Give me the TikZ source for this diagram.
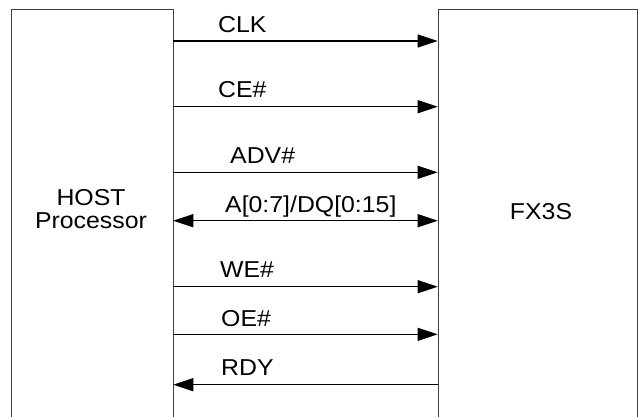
\documentclass[tikz,border=0pt]{standalone}
\usepackage{fontspec}
\setmainfont{Liberation Sans}[FakeStretch=1.08]
\usetikzlibrary{arrows.meta}

\begin{document}
\begin{tikzpicture}[x=1pt, y=-1pt,
                    box/.style = {draw=black!75, line width=0.8pt, minimum width=162pt, minimum height=440pt, anchor=north west, inner sep=0pt},
                    sig/.style = {line width=1.1pt, -{Triangle[length=20pt,width=13pt]}},
                    bus/.style = {line width=1.1pt, {Triangle[length=20pt,width=13pt]}-{Triangle[length=20pt,width=13pt]}},
                    lbl/.style = {anchor=base west, inner sep=0pt, font=\fontsize{23}{23}\selectfont}]
                    \clip (0,0) rectangle (639,416);

                    \node[box] (host) at (10.5,8.5) {};
                    \node[box, minimum width=199pt] (fx) at (437.7,8.5) {};
                    \node[align=center, font=\fontsize{23}{22.5}\selectfont] (hostname) at (91,209) {HOST\\Processor};
                    \node[font=\fontsize{23}{23}\selectfont] (fxname) at (541,212) {FX3S};

                    \draw[sig] (host.east |- 0,41) -- (fx.west |- 0,41);
                    \draw[sig] (host.east |- 0,106.7) -- (fx.west |- 0,106.7);
                    \draw[sig] (host.east |- 0,172.3) -- (fx.west |- 0,172.3);
                    \draw[bus] (host.east |- 0,220.7) -- (fx.west |- 0,220.7);
                    \draw[sig] (host.east |- 0,286.7) -- (fx.west |- 0,286.7);
                    \draw[sig] (host.east |- 0,334.3) -- (fx.west |- 0,334.3);
                    \draw[sig] (fx.west |- 0,384.7) -- (host.east |- 0,384.7);

                    \node[lbl] (clk) at (218,32) {CLK};
                    \node[lbl] (ce) at (218,97.5) {CE\#};
                    \node[lbl] (adv) at (230,163) {ADV\#};
                    \node[lbl] (adq) at (225,212) {A[0:7]/DQ[0:15]};
                    \node[lbl] (we) at (220,277.5) {WE\#};
                    \node[lbl] (oe) at (221,326) {OE\#};
                    \node[lbl] (rdy) at (221,375) {RDY};
                \end{tikzpicture}
\end{document}
